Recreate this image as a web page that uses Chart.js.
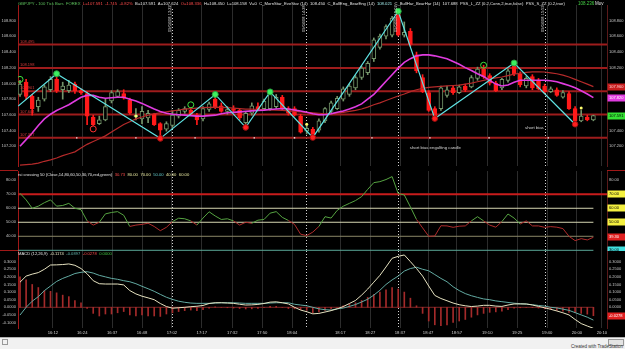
<!DOCTYPE html>
<html><head><meta charset="utf-8">
<script src="https://cdn.jsdelivr.net/npm/chart.js@4.4.1/dist/chart.umd.min.js"></script>
<style>
html,body{margin:0;padding:0;background:#000;width:625px;height:349px;overflow:hidden}
.p{position:absolute;left:0;width:625px}
canvas{display:block}
#strip{position:absolute;left:0;top:337px;width:625px;height:12px;background:#f1f1f1;border-top:1px solid #b0b0b0;box-sizing:border-box;font:4.5px "Liberation Sans",Arial,sans-serif;color:#333}
#strip .cr{position:absolute;right:2px;bottom:0px}
#strip .bx{position:absolute;right:1px;top:1px;width:14px;height:5px;border:1px solid #999;background:#e4e4e4}
#strip .lf{position:absolute;left:2px;top:1px;width:4px;height:4px;border:1px solid #999}
</style></head><body>
<div class="p" style="top:0;height:171px"><canvas id="cPrice" width="625" height="171" style="width:625px;height:171px"></canvas></div>
<div class="p" style="top:171px;height:80px"><canvas id="cRsi" width="625" height="80" style="width:625px;height:80px"></canvas></div>
<div class="p" style="top:251px;height:86px"><canvas id="cMacd" width="625" height="86" style="width:625px;height:86px"></canvas></div>
<div id="strip"><div class="lf"></div><div class="bx"></div><span class="cr">Created with TradeStation</span></div>
<script>
// ---------------- DATA ----------------
const openP = [107.860,108.016,107.836,107.704,107.800,107.920,108.052,107.920,107.908,107.992,
107.908,107.872,107.572,107.488,107.536,107.776,107.836,107.872,107.788,107.572,
107.548,107.560,107.608,107.488,107.416,107.464,107.584,107.644,107.656,107.596,
107.548,107.668,107.800,107.716,107.644,107.680,107.656,107.500,107.620,107.704,
107.680,107.680,107.704,107.824,107.680,107.680,107.584,107.392,107.416,107.404,
107.524,107.644,107.680,107.800,107.860,107.944,108.076,108.136,108.316,108.460,
108.604,108.616,108.880,108.616,108.664,108.364,108.076,107.884,107.680,107.680,
107.848,107.944,107.884,107.968,107.956,108.064,108.184,108.100,108.004,107.944,
108.040,108.220,108.124,107.968,108.088,108.040,107.968,107.896,107.920,107.824,
107.872,107.680,107.524,107.572,107.536];
const highP = [108.040,108.052,107.860,107.824,107.980,108.088,108.124,108.016,108.040,108.016,
107.932,107.896,107.596,107.584,107.800,107.908,107.920,107.920,107.812,107.680,
107.704,107.656,107.620,107.500,107.512,107.656,107.680,107.704,107.692,107.620,
107.704,107.764,107.860,107.752,107.704,107.716,107.680,107.632,107.752,107.752,
107.800,107.892,107.860,107.848,107.704,107.704,107.608,107.464,107.440,107.548,
107.692,107.776,107.836,107.956,107.992,108.100,108.220,108.280,108.580,108.628,
108.748,108.856,108.920,108.784,108.700,108.400,108.112,107.908,107.704,107.968,
107.968,107.968,107.980,107.992,108.100,108.208,108.232,108.124,108.028,108.064,
108.184,108.260,108.148,108.088,108.112,108.064,107.992,107.956,107.944,107.908,
107.896,107.704,107.656,107.596,107.596];
const lowP = [107.836,107.800,107.596,107.644,107.776,107.896,107.884,107.800,107.884,107.872,
107.860,107.476,107.464,107.476,107.524,107.752,107.824,107.800,107.608,107.536,
107.488,107.500,107.464,107.300,107.392,107.440,107.560,107.620,107.596,107.476,
107.524,107.644,107.680,107.632,107.608,107.632,107.536,107.440,107.596,107.656,
107.656,107.656,107.680,107.656,107.596,107.584,107.368,107.356,107.312,107.380,
107.500,107.620,107.668,107.776,107.836,107.920,108.052,108.112,108.280,108.436,
108.568,108.592,108.604,108.592,108.472,108.136,107.884,107.644,107.552,107.656,
107.824,107.860,107.872,107.896,107.944,108.040,108.064,107.980,107.896,107.920,
108.016,108.100,107.956,107.944,107.920,107.920,107.872,107.884,107.836,107.812,
107.668,107.480,107.512,107.524,107.524];
const closeP = [107.992,107.836,107.680,107.788,107.956,108.052,107.908,107.968,107.980,107.908,
107.884,107.584,107.476,107.536,107.704,107.884,107.896,107.812,107.620,107.596,
107.644,107.620,107.476,107.404,107.488,107.596,107.656,107.680,107.608,107.536,
107.680,107.740,107.704,107.644,107.668,107.656,107.560,107.620,107.716,107.680,
107.776,107.860,107.824,107.680,107.620,107.596,107.380,107.428,107.344,107.524,
107.680,107.752,107.812,107.932,107.968,108.076,108.196,108.256,108.556,108.604,
108.724,108.832,108.616,108.652,108.496,108.160,107.896,107.656,107.584,107.944,
107.920,107.884,107.956,107.920,108.076,108.184,108.088,108.004,107.908,108.052,
108.160,108.124,107.980,108.064,107.944,107.932,107.896,107.932,107.848,107.884,
107.680,107.524,107.584,107.536,107.591];
const fastMA = [107.200,107.284,107.368,107.464,107.548,107.608,107.656,107.692,107.728,107.776,
107.824,107.848,107.848,107.824,107.812,107.818,107.824,107.824,107.800,107.776,
107.746,107.710,107.674,107.644,107.620,107.608,107.602,107.596,107.590,107.584,
107.584,107.590,107.596,107.614,107.626,107.632,107.638,107.644,107.650,107.656,
107.660,107.668,107.674,107.680,107.674,107.662,107.650,107.632,107.614,107.602,
107.602,107.614,107.632,107.650,107.674,107.704,107.740,107.800,107.860,107.944,
108.028,108.112,108.196,108.268,108.316,108.352,108.364,108.364,108.352,108.334,
108.316,108.280,108.244,108.202,108.166,108.124,108.088,108.040,107.992,107.968,
107.980,108.016,108.040,108.040,108.040,108.040,108.040,108.034,108.022,107.998,
107.974,107.944,107.908,107.866,107.820];
const slowMA = [106.960,106.966,106.972,106.984,107.008,107.026,107.050,107.080,107.104,107.128,
107.176,107.224,107.260,107.296,107.332,107.380,107.428,107.476,107.512,107.548,
107.572,107.596,107.614,107.626,107.638,107.650,107.662,107.674,107.680,107.686,
107.692,107.696,107.698,107.696,107.692,107.686,107.680,107.674,107.672,107.668,
107.666,107.662,107.660,107.656,107.650,107.644,107.638,107.632,107.626,107.620,
107.614,107.614,107.620,107.632,107.644,107.656,107.674,107.698,107.728,107.752,
107.782,107.812,107.840,107.866,107.896,107.920,107.938,107.950,107.956,107.962,
107.968,107.974,107.980,107.992,108.004,108.022,108.040,108.058,108.070,108.082,
108.100,108.118,108.130,108.142,108.148,108.148,108.146,108.136,108.124,108.106,
108.082,108.052,108.022,107.992,107.960];
const zzIdx = [-0.3, 6, 23, 32, 37, 41, 48, 62, 68, 81, 91];
const zzVal = [107.712,108.124,107.300,107.860,107.440,107.892,107.312,108.920,107.552,108.260,107.480];
const levelVals = [108.495,108.198,107.901,107.604,107.307];
const levelLbls = ['108.495','108.198','107.901','107.604','107.307'];
const greenCircIdx = [0,28,76], greenCircVal = [108.052,107.728,108.232];
const redCircIdx = [12], redCircVal = [107.420];
const yellowIdx = [19,47,92], yellowVal = [107.584,107.480,107.688];
const markIdx = [9.3,19,28.7,38.4,45,57.7,67.2,76.9,86.6], markVal = 107.307;
const noteText = ['short bias', 'short bias engulfing candle'];
const noteIdx = [82.8, 63.9], noteVal = [107.432, 107.180];
const priceTicks = [108.8,108.6,108.4,108.2,108.0,107.8,107.6,107.4,107.2];
const priceTicksRight = [108.8,108.6,108.4,108.2,107.4,107.2];

const rsi = [70.7,66,60,61.5,64,66,61.5,62,63.5,60,
59,51,48,50,56,57,57.6,55,47,48,
48.5,49.3,47,44,46.4,50.5,52.9,52.5,51,48,
53,57.5,54.5,52,52.5,51,48,50,49.3,51.5,
52,56.5,57.6,53.5,51.3,48.5,41.5,40.5,43,47,
54,53,58.5,61.5,63.5,65.5,68.3,73.5,78.3,79,
80.5,82.6,70.5,69.5,61,52,46,40,40.2,47.5,
47.4,46.4,47.2,47.4,51,54,51,48,46.5,50.5,
55.9,53,48.8,51,47.4,47.4,46.4,46.9,46.5,45.5,
40,36.9,38.3,37.4,39.3];
const rsiTicks = [80,70,60,50,40];

const macd = [0.165,0.205,0.218,0.228,0.25,0.278,0.279,0.281,0.285,0.276,
0.255,0.22,0.175,0.155,0.153,0.153,0.153,0.147,0.11,0.088,
0.073,0.062,0.05,0.025,0.005,-0.006,-0.003,0.0,0.004,0.007,
0.012,0.025,0.03,0.03,0.028,0.026,0.02,0.015,0.016,0.019,
0.025,0.034,0.036,0.03,0.022,0.0,-0.018,-0.029,-0.043,-0.04,
-0.031,-0.022,-0.01,0.005,0.025,0.045,0.08,0.12,0.165,0.21,
0.265,0.322,0.335,0.344,0.3,0.255,0.205,0.14,0.078,0.058,
0.043,0.028,0.017,0.01,0.005,0.008,0.013,0.013,0.008,0.006,
0.015,0.022,0.022,0.022,0.015,0.006,-0.003,-0.013,-0.024,-0.036,
-0.05,-0.08,-0.107,-0.123,-0.138];
const signal = [-0.051,0.0,0.04,0.07,0.11,0.14,0.17,0.19,0.205,0.222,
0.23,0.234,0.225,0.21,0.2,0.19,0.184,0.175,0.168,0.155,
0.138,0.122,0.105,0.085,0.066,0.052,0.04,0.033,0.028,0.026,
0.026,0.026,0.028,0.03,0.03,0.03,0.028,0.026,0.026,0.026,
0.026,0.028,0.03,0.03,0.03,0.02,0.015,0.01,0.0,-0.01,
-0.016,-0.018,-0.01,-0.005,0.006,0.018,0.035,0.053,0.08,0.112,
0.15,0.18,0.205,0.238,0.255,0.263,0.25,0.24,0.215,0.19,
0.168,0.135,0.11,0.09,0.076,0.065,0.055,0.05,0.042,0.037,
0.032,0.027,0.024,0.021,0.017,0.012,0.008,0.0,-0.004,-0.012,
-0.02,-0.035,-0.05,-0.065,-0.084];
const hist = [0.2,0.18,0.15,0.13,0.11,0.105,0.095,0.08,0.07,0.045,
0.03,-0.007,-0.04,-0.057,-0.044,-0.044,-0.036,-0.028,-0.05,-0.057,
-0.05,-0.057,-0.057,-0.06,-0.044,-0.036,-0.028,-0.022,-0.018,-0.022,
-0.015,-0.005,0.003,0.0,-0.003,-0.005,-0.008,-0.011,-0.01,-0.007,
-0.001,0.006,0.006,0.0,-0.008,-0.01,-0.015,-0.02,-0.036,-0.03,
-0.02,-0.01,0.0,0.01,0.02,0.03,0.045,0.065,0.085,0.1,
0.115,0.13,0.12,0.1,0.06,0.01,-0.04,-0.09,-0.115,-0.12,
-0.115,-0.1,-0.09,-0.08,-0.065,-0.05,-0.04,-0.033,-0.03,-0.025,
-0.015,-0.006,-0.003,0.0,-0.002,-0.005,-0.01,-0.013,-0.02,-0.026,
-0.033,-0.036,-0.04,-0.045,-0.055];
const macdTicks = [0.30,0.25,0.20,0.15,0.10,0.05,0.0,-0.05,-0.10];

const tickIdx = [5.4,10.2,15.1,20,24.9,29.8,34.8,39.7,44.6,52.5,57.4,62.3,66.9,71.6,76.6,81.5,86.4,91.3,95.4];
const tickLbl = ['16:12','16:24','16:37','16:48','17:02','17:17','17:32','17:50','18:04','18:17','18:27','18:37','18:47','18:57','19:10','19:25','19:40','20:00','20:10'];
const sessionIdx = [24.9,46.9,62.0,86.1];
const sessionLbl = ['09/04/08 13:22','09/04/08 14:28','09/04/08 15:02','09/04/08 15:59'];

// ---------------- LAYOUT / STYLE ----------------
const FONT = '"Liberation Sans", Arial, sans-serif';
const X_MIN = -0.33, X_MAX = 96.23;
const UPC = '#74956a', DNC = '#ff1a1a';
const LAST = closeP.length - 1;
const idx = closeP.map((_, i) => i);
const isUp = i => closeP[i] >= openP[i];
Chart.defaults.font.family = FONT;
Chart.defaults.animation = false;

function xAxis(show){
  return {type:'linear', min:X_MIN, max:X_MAX, offset:false,
    grid:{color:'#2c2c2c', lineWidth:1, drawTicks:false, offset:false},
    border:{display:false},
    ticks:{display:show, color:'#cfcfcf', font:{size:4.2, family:FONT}, padding:2, maxRotation:0, autoSkip:false,
      callback:v => { const k = tickIdx.indexOf(v); return k >= 0 ? tickLbl[k] : ''; }},
    afterBuildTicks:s => { s.ticks = tickIdx.map(v => ({value:v})); },
    afterFit:s => { s.height = show ? 9 : 0; s.paddingLeft = 0; s.paddingRight = 0; }
  };
}
function yAxis(pos, min, max, vals, fmt, borderCol){
  return {type:'linear', position:pos, min, max,
    grid:{display:false, drawTicks:false},
    border:{display:true, color:borderCol, width:1},
    ticks:{color:'#c4c4c4', font:{size:4, family:FONT}, padding:2, autoSkip:false, callback:v => fmt(v)},
    afterBuildTicks:s => { s.ticks = vals.map(v => ({value:v})); },
    afterFit:s => { s.width = 18; s.paddingTop = 0; s.paddingBottom = 0; }
  };
}

function drawFlow(ctx, f){
  const gap = f.gap || 2.2;
  let size = f.size;
  ctx.font = size + 'px ' + FONT;
  if (f.end) {
    const w = f.parts.reduce((s, p) => s + ctx.measureText(p[0]).width, 0);
    const avail = f.end - f.x - gap * (f.parts.length - 1);
    size = size * avail / w;
    ctx.font = size + 'px ' + FONT;
  }
  let x = f.x;
  f.parts.forEach(p => { ctx.fillStyle = p[1]; ctx.fillText(p[0], x, f.y); x += ctx.measureText(p[0]).width + gap; });
}

const extras = {
  id:'extras',
  beforeDatasetsDraw(chart, args, o){
    const ctx = chart.ctx, xs = chart.scales.x, ca = chart.chartArea;
    ctx.save();
    ctx.strokeStyle = '#d4d4d4'; ctx.lineWidth = 1; ctx.setLineDash([1,2]);
    sessionIdx.forEach(v => {
      const px = Math.round(xs.getPixelForValue(v)) + 0.5;
      ctx.beginPath(); ctx.moveTo(px, ca.top + (o.sessTop || 0)); ctx.lineTo(px, ca.bottom); ctx.stroke();
    });
    ctx.restore();
  },
  afterDraw(chart, args, o){
    const ctx = chart.ctx, xs = chart.scales.x, ys = chart.scales.yl;
    ctx.save();
    (o.seps || []).forEach(y => {
      ctx.strokeStyle = '#a01818'; ctx.lineWidth = 1;
      ctx.beginPath(); ctx.moveTo(0, y); ctx.lineTo(18, y); ctx.moveTo(607, y); ctx.lineTo(625, y); ctx.stroke();
    });
    ctx.textBaseline = 'middle'; ctx.textAlign = 'left';
    (o.flows || []).forEach(f => drawFlow(ctx, f));
    (o.texts || []).forEach(t => {
      ctx.font = (t.s || 5) + 'px ' + FONT; ctx.fillStyle = t.c; ctx.fillText(t.t, t.x, t.y);
    });
    (o.notes || []).forEach(n => {
      ctx.font = '4.3px ' + FONT; ctx.fillStyle = '#d8d8d8';
      ctx.fillText(n.t, xs.getPixelForValue(n.x), ys.getPixelForValue(n.y));
    });
    if (o.sessLabels) {
      ctx.font = '4px ' + FONT; ctx.fillStyle = '#d8d8d8';
      sessionIdx.forEach((v, k) => {
        const px = xs.getPixelForValue(v);
        ctx.save(); ctx.translate(px - 0.5, 32); ctx.rotate(-Math.PI/2);
        ctx.textBaseline = 'bottom'; ctx.fillText(sessionLbl[k], 0, 0); ctx.restore();
      });
    }
    (o.levelLabels || []).forEach(l => {
      ctx.font = '4px ' + FONT; ctx.fillStyle = '#d83a3a'; ctx.textBaseline = 'bottom';
      ctx.fillText(l.t, 20, ys.getPixelForValue(l.v) - 1);
    });
    ctx.textBaseline = 'middle';
    (o.boxes || []).forEach(b => {
      const py = ys.getPixelForValue(b.v);
      ctx.fillStyle = b.bg; ctx.fillRect(607.5, Math.round(py) - 3.5, 17.5, 7);
      ctx.font = '4px ' + FONT; ctx.fillStyle = b.fg; ctx.fillText(b.t, 609, py);
    });
    ctx.restore();
  }
};

const baseOpts = (scales, plug) => ({
  responsive:false, animation:false, devicePixelRatio:1,
  layout:{padding:0},
  plugins:{legend:{display:false}, tooltip:{enabled:false}, extras:plug},
  scales
});
const line = (data, color, w, order, extra) => Object.assign({type:'line', data, borderColor:color, borderWidth:w, pointRadius:0, fill:false, tension:0, order, yAxisID:'yl'}, extra || {});
const pts = (data, opts, order) => Object.assign({type:'scatter', data, order, yAxisID:'yl'}, opts);

const W = '#e2e2e2', RD = '#ff4a4a';

// ---------------- PRICE ----------------
const P_MIN = 106.948, P_MAX = 109.0;
new Chart(document.getElementById('cPrice'), {
  type:'bar',
  data:{datasets:[
    ...levelVals.map(v => line([{x:X_MIN,y:v},{x:X_MAX,y:v}], '#9e1c1c', 2, 40)),
    {type:'bar', yAxisID:'yl', order:30, grouped:false, barThickness:1,
     data: idx.map(i => ({x:i, y:[lowP[i], highP[i]]})),
     backgroundColor: idx.map(i => isUp(i) ? UPC : DNC)},
    {type:'bar', yAxisID:'yl', order:29, grouped:false, barThickness:4, borderWidth:1, borderSkipped:false,
     data: idx.map(i => ({x:i, y:[Math.min(openP[i],closeP[i]), Math.max(openP[i],closeP[i])]})),
     backgroundColor: idx.map(i => isUp(i) ? '#000000' : DNC),
     borderColor: idx.map(i => isUp(i) ? UPC : DNC)},
    line(idx.map(i => ({x:i, y:slowMA[i]})), '#b42a2a', 1.2, 12),
    line(idx.map(i => ({x:i, y:fastMA[i]})), '#e03ce0', 1.6, 11),
    pts(markIdx.map(x => ({x, y:markVal})), {pointStyle:'rect', pointRadius:1, backgroundColor:'#f0f0f0', borderWidth:0}, 10),
    line(zzIdx.map((x,k) => ({x, y:zzVal[k]})), '#5fe3e3', 1.2, 6),
    pts(zzIdx.map((x,k) => ({x, y:zzVal[k], k})).filter(p => p.k % 2 === 1), {pointRadius:3, backgroundColor:'#3cf060', borderColor:'#2aa040', borderWidth:1}, 3),
    pts(zzIdx.map((x,k) => ({x, y:zzVal[k], k})).filter(p => p.k > 0 && p.k % 2 === 0), {pointRadius:2.8, backgroundColor:'#ff2020', borderColor:'#a01010', borderWidth:1}, 3),
    pts(greenCircIdx.map((x,k) => ({x, y:greenCircVal[k]})), {pointRadius:3, backgroundColor:'rgba(0,0,0,0)', borderColor:'#3ee03e', borderWidth:1}, 2),
    pts(redCircIdx.map((x,k) => ({x, y:redCircVal[k]})), {pointRadius:3, backgroundColor:'rgba(0,0,0,0)', borderColor:'#ff3030', borderWidth:1}, 2),
    pts(yellowIdx.map((x,k) => ({x, y:yellowVal[k]})), {pointRadius:1.5, backgroundColor:'#ffff70', borderWidth:0}, 2)
  ]},
  options: baseOpts({
    x: xAxis(false),
    yl: yAxis('left', P_MIN, P_MAX, priceTicks, v => v.toFixed(3), '#a01818'),
    yr: yAxis('right', P_MIN, P_MAX, priceTicksRight, v => v.toFixed(3), '#5a1a1a')
  }, {
    sessTop: 4, sessLabels: true, seps:[170.5],
    levelLabels: levelVals.map((v,k) => ({v, t:levelLbls[k]})),
    notes: noteText.map((t,k) => ({t, x:noteIdx[k], y:noteVal[k]})),
    boxes: [
      {v:slowMA[LAST], t:slowMA[LAST].toFixed(3), bg:'#c81e1e', fg:'#ffd0d0'},
      {v:fastMA[LAST], t:fastMA[LAST].toFixed(3), bg:'#e03ce0', fg:'#ffffff'},
      {v:closeP[LAST], t:closeP[LAST].toFixed(3), bg:'#34e034', fg:'#000000'}
    ],
    flows: [{x:18, y:3.5, size:5, end:567, gap:2.4, parts:[
      ['GBPJPY - 100 Tick Bars  FOREX', '#5cc05c'], ['L=107.591', RD], ['-1.745', RD], ['-0.82%', RD],
      ['B=107.591', W], ['A=107.624', W], ['O=108.336', RD], ['H=108.450', W], ['L=108.158', W], ['V=0', W],
      ['C_MornStar_EveStar (14)', W], ['108.450', W], ['C_BullEng_BearEng (14)', W], ['108.021', '#a0e8e8'],
      ['C_BullHar_BearHar (14)', W], ['107.688', W], ['PSS_L_ZZ (0.2,Conn,2,true,false)', W], ['PSS_S_ZZ (0.2,true)', W]
    ]}],
    texts: [
      {t:'108.236', x:578, y:3.5, c:'#44d044', s:4.5},
      {t:'Mov', x:595, y:3.5, c:W, s:4.5}
    ]
  }),
  plugins:[extras]
});

// ---------------- RSI ----------------
const R_MIN = 29.5, R_MAX = 86.6;
new Chart(document.getElementById('cRsi'), {
  type:'line',
  data:{datasets:[
    line([{x:X_MIN,y:70},{x:X_MAX,y:70}], '#c81c1c', 2, 20),
    line([{x:X_MIN,y:60},{x:LAST,y:60}], '#d6d6b2', 1, 20),
    line([{x:X_MIN,y:50},{x:LAST,y:50}], '#d6d6b2', 1, 20),
    line([{x:X_MIN,y:40},{x:LAST,y:40}], '#8a8666', 1, 20),
    line([{x:X_MIN,y:30},{x:LAST,y:30}], '#5aa898', 1, 20),
    line(idx.map(i => ({x:i, y:rsi[i]})), '#4f9c3c', 1, 5, {
      segment:{borderColor: c => ((c.p0.parsed.y + c.p1.parsed.y) / 2 >= 50 ? '#56a442' : '#b02c2c')}
    })
  ]},
  options: baseOpts({
    x: xAxis(false),
    yl: yAxis('left', R_MIN, R_MAX, rsiTicks, v => v.toFixed(2), '#a01818'),
    yr: yAxis('right', R_MIN, R_MAX, [80], v => v.toFixed(2), '#5a1a1a')
  }, {
    seps:[79.5],
    boxes:[
      {v:70, t:'70.00', bg:'#f4f040', fg:'#000'},
      {v:60, t:'60.00', bg:'#f4f040', fg:'#000'},
      {v:50, t:'50.00', bg:'#f4f040', fg:'#000'},
      {v:rsi[LAST], t:rsi[LAST].toFixed(2), bg:'#e02020', fg:'#fff'},
      {v:30, t:'30.00', bg:'#40e0e0', fg:'#000'}
    ],
    flows:[{x:18, y:3.5, size:4.3, end:190, gap:2.5, parts:[
      ['rsi crossing 50 (Close,14,80,60,50,30,70,red,green)', W], ['30.73', RD], ['80.00', '#e8e8a0'],
      ['70.00', '#e8e8a0'], ['50.00', '#60c8c8'], ['40.00', '#e8e8a0'], ['60.00', '#e8e8a0']
    ]}]
  }),
  plugins:[extras]
});

// ---------------- MACD ----------------
const M_MIN = -0.136, M_MAX = 0.370;
new Chart(document.getElementById('cMacd'), {
  type:'bar',
  data:{datasets:[
    line([{x:X_MIN,y:0},{x:LAST,y:0}], '#7c2626', 1, 20),
    {type:'bar', yAxisID:'yl', order:15, grouped:false, barThickness:1,
     data: idx.map(i => ({x:i, y:hist[i]})), backgroundColor:'#a42a2a'},
    line(idx.map(i => ({x:i, y:signal[i]})), '#62aaa2', 1, 6),
    line(idx.map(i => ({x:i, y:macd[i]})), '#e6e2c0', 1, 5)
  ]},
  options: baseOpts({
    x: xAxis(true),
    yl: yAxis('left', M_MIN, M_MAX, macdTicks, v => v.toFixed(4), '#a01818'),
    yr: yAxis('right', M_MIN, M_MAX, macdTicks.filter(v => v > -0.04), v => v.toFixed(4), '#5a1a1a')
  }, {
    boxes:[{v:hist[LAST], t:'-0.0278', bg:'#e02020', fg:'#fff'}],
    flows:[{x:18, y:2.5, size:4.3, end:112, gap:2.5, parts:[
      ['MACD (12,26,9)', W], ['-0.1174', '#e8e6c4'], ['-0.0897', '#62b0a8'], ['-0.0278', RD], ['0.0000', '#40c040']
    ]}]
  }),
  plugins:[extras]
});
</script>
</body></html>
